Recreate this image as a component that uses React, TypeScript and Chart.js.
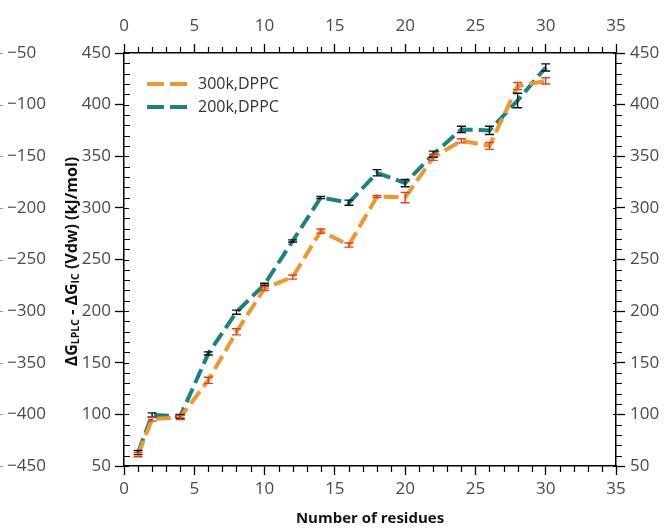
import React, { useEffect, useRef } from "react";
import { Chart, registerables } from "chart.js";

Chart.register(...registerables);

// ---- data ----
const residues = [1, 2, 4, 6, 8, 10, 12, 14, 16, 18, 20, 22, 24, 26, 28, 30];
const dppc300 = [61, 95.5, 97, 133, 180, 222, 233, 277.5, 264, 311, 310, 349, 365, 360, 418, 423];
const dppc300Err = [2, 2, 2, 3, 3, 2, 2, 2, 2, 1, 5, 3, 2, 3.3, 3.5, 3];
const dppc200 = [63, 99.5, 98, 159, 199, 226, 268, 310, 305, 334, 324, 352, 376, 375, 404, 436];
const dppc200Err = [2, 2, 2, 1.5, 2, 1, 1, 1, 2.5, 3, 3.5, 3, 3, 4, 7, 3.5];
const seriesLabels = ["300k,DPPC", "200k,DPPC"];
const seriesColors = ["#f0982c", "#1b8282"];
const errorColors = ["#e2401e", "#111111"];
const xRange = [0, 35];
const yRange = [50, 450];
const yFarRange = [-450, -50];
const xTitle = "Number of residues";

const FONT = "'Open Sans', 'DejaVu Sans', sans-serif";
const TICK_COLOR = "#4a4a4a";

export default function App() {
  const ref = useRef<HTMLCanvasElement>(null);

  useEffect(() => {
    const canvas = ref.current!;

    const errorBars = {
      id: "errorBars",
      afterDatasetsDraw(chart: any) {
        const { ctx } = chart;
        const xs = chart.scales.x;
        const ys = chart.scales.y;
        const errs = [dppc300Err, dppc200Err];
        const vals = [dppc300, dppc200];
        ctx.save();
        for (let d = 1; d >= 0; d--) {
          ctx.strokeStyle = errorColors[d];
          ctx.lineWidth = 1.4;
          residues.forEach((r, i) => {
            const px = xs.getPixelForValue(r);
            const yTop = ys.getPixelForValue(vals[d][i] + errs[d][i]);
            const yBot = ys.getPixelForValue(vals[d][i] - errs[d][i]);
            ctx.beginPath();
            ctx.moveTo(px, yTop);
            ctx.lineTo(px, yBot);
            ctx.moveTo(px - 4.5, yTop);
            ctx.lineTo(px + 4.5, yTop);
            ctx.moveTo(px - 4.5, yBot);
            ctx.lineTo(px + 4.5, yBot);
            ctx.stroke();
          });
        }
        ctx.restore();
      },
    };

    const decorations = {
      id: "decorations",
      afterDraw(chart: any) {
        const { ctx, chartArea } = chart;
        const xs = chart.scales.x;
        const ys = chart.scales.y;
        const far = chart.scales.yFar;
        ctx.save();
        ctx.strokeStyle = "#000";
        ctx.lineWidth = 1.2;
        // minor x ticks (bottom & top, outward)
        for (let v = xRange[0]; v <= xRange[1]; v++) {
          if (v % 5 === 0) continue;
          const px = Math.round(xs.getPixelForValue(v)) + 0.5;
          ctx.beginPath();
          ctx.moveTo(px, chartArea.bottom);
          ctx.lineTo(px, chartArea.bottom + 6);
          ctx.moveTo(px, chartArea.top);
          ctx.lineTo(px, chartArea.top - 6);
          ctx.stroke();
        }
        // minor y ticks
        for (let v = yRange[0]; v <= yRange[1]; v += 10) {
          const py = Math.round(ys.getPixelForValue(v)) + 0.5;
          ctx.beginPath();
          if (v % 50 === 0) {
            ctx.moveTo(chartArea.left, py);
            ctx.lineTo(chartArea.left + 5, py);
            ctx.moveTo(chartArea.right, py);
            ctx.lineTo(chartArea.right - 3, py);
          } else {
            ctx.moveTo(chartArea.left, py);
            ctx.lineTo(chartArea.left + 6, py);
            ctx.moveTo(chartArea.right, py);
            ctx.lineTo(chartArea.right + 6, py);
          }
          ctx.stroke();
        }
        // faint ticks of the cropped far-left axis
        ctx.strokeStyle = "#999";
        ctx.lineWidth = 1;
        for (let v = yFarRange[0]; v <= yFarRange[1]; v += 50) {
          const py = Math.round(far.getPixelForValue(v)) + 0.5;
          ctx.beginPath();
          ctx.moveTo(0, py);
          ctx.lineTo(3, py);
          ctx.stroke();
        }

        // y title with subscripts
        const parts: [string, boolean][] = [
          ["ΔG", false],
          ["LPLC", true],
          [" - ΔG", false],
          ["IC", true],
          [" (Vdw) (kJ/mol)", false],
        ];
        const big = `bold 16px ${FONT}`;
        const small = `bold 10.5px ${FONT}`;
        let total = 0;
        parts.forEach(([t, sub]) => {
          ctx.font = sub ? small : big;
          total += ctx.measureText(t).width;
        });
        ctx.translate(72, (chartArea.top + chartArea.bottom) / 2 + 2);
        ctx.rotate(-Math.PI / 2);
        ctx.fillStyle = "#111";
        ctx.textBaseline = "middle";
        ctx.textAlign = "left";
        let x = -total / 2;
        parts.forEach(([t, sub]) => {
          ctx.font = sub ? small : big;
          ctx.fillText(t, x, sub ? 4 : 0);
          x += ctx.measureText(t).width;
        });
        ctx.restore();

        // legend
        ctx.save();
        const lx = chartArea.left + 23;
        const ly = chartArea.top + 31;
        seriesLabels.forEach((lab, i) => {
          const y = ly + i * 23;
          ctx.strokeStyle = seriesColors[i];
          ctx.lineWidth = 4;
          ctx.setLineDash([17, 6]);
          ctx.beginPath();
          ctx.moveTo(lx, y);
          ctx.lineTo(lx + 40, y);
          ctx.stroke();
          ctx.setLineDash([]);
          ctx.fillStyle = "#333";
          ctx.font = `16px ${FONT}`;
          ctx.textBaseline = "middle";
          ctx.fillText(lab, lx + 51, y);
        });
        ctx.restore();
      },
    };

    const tickFont = { family: FONT, size: 17 };
    const gridOpts = {
      drawOnChartArea: false,
      drawTicks: true,
      tickLength: 9,
      tickColor: "#000",
      tickWidth: 1.3,
    };
    const borderOpts = { display: true, color: "#000", width: 1.5 };

    const chart = new Chart(canvas, {
      type: "line",
      data: {
        datasets: [
          {
            label: seriesLabels[0],
            data: residues.map((r, i) => ({ x: r, y: dppc300[i] })),
            borderColor: seriesColors[0],
            backgroundColor: seriesColors[0],
            borderWidth: 4,
            borderDash: [15, 6],
            pointRadius: 0,
            tension: 0,
            fill: false,
            xAxisID: "x",
            yAxisID: "y",
          },
          {
            label: seriesLabels[1],
            data: residues.map((r, i) => ({ x: r, y: dppc200[i] })),
            borderColor: seriesColors[1],
            backgroundColor: seriesColors[1],
            borderWidth: 4,
            borderDash: [15, 6],
            pointRadius: 0,
            tension: 0,
            fill: false,
            xAxisID: "x",
            yAxisID: "y",
          },
        ],
      },
      options: {
        responsive: false,
        animation: false,
        devicePixelRatio: 1,
        layout: { padding: { left: 7, right: 0, top: 0, bottom: 0 } },
        plugins: {
          legend: { display: false },
          tooltip: { enabled: false },
        },
        scales: {
          x: {
            type: "linear",
            position: "bottom",
            min: xRange[0],
            max: xRange[1],
            ticks: { stepSize: 5, font: tickFont, color: TICK_COLOR, padding: 4, maxRotation: 0 },
            grid: gridOpts,
            border: borderOpts,
            title: {
              display: true,
              text: xTitle,
              color: "#111",
              font: { family: FONT, size: 15, weight: "bold" },
              padding: { top: 0, bottom: 1 },
            },
            afterFit: (s: any) => {
              s.height = 63;
            },
          },
          x2: {
            type: "linear",
            position: "top",
            min: xRange[0],
            max: xRange[1],
            ticks: { stepSize: 5, font: tickFont, color: TICK_COLOR, padding: 8, maxRotation: 0 },
            grid: gridOpts,
            border: borderOpts,
            afterFit: (s: any) => {
              s.height = 53;
            },
          },
          y: {
            type: "linear",
            position: "left",
            weight: 0,
            min: yRange[0],
            max: yRange[1],
            ticks: { stepSize: 50, font: tickFont, color: TICK_COLOR, padding: 4 },
            grid: gridOpts,
            border: borderOpts,
            afterFit: (s: any) => {
              s.width = 64;
            },
          },
          yFar: {
            type: "linear",
            position: "left",
            weight: 1,
            min: yFarRange[0],
            max: yFarRange[1],
            ticks: {
              stepSize: 50,
              font: tickFont,
              color: TICK_COLOR,
              crossAlign: "far",
              callback: (v: any) => "\u2212" + Math.abs(Number(v)),
            },
            grid: { display: false, drawTicks: false },
            border: { display: false },
            afterFit: (s: any) => {
              s.width = 53;
            },
          },
          yR: {
            type: "linear",
            position: "right",
            min: yRange[0],
            max: yRange[1],
            ticks: { stepSize: 50, font: tickFont, color: TICK_COLOR, padding: 5 },
            grid: gridOpts,
            border: borderOpts,
            afterFit: (s: any) => {
              s.width = 49;
            },
          },
        },
      } as any,
      plugins: [errorBars, decorations],
    });

    return () => chart.destroy();
  }, []);

  return (
    <div style={{ position: "fixed", left: 0, top: 0, width: 665, height: 529, background: "#fff" }}>
      <canvas ref={ref} width={665} height={529} style={{ display: "block", width: 665, height: 529 }} />
    </div>
  );
}
